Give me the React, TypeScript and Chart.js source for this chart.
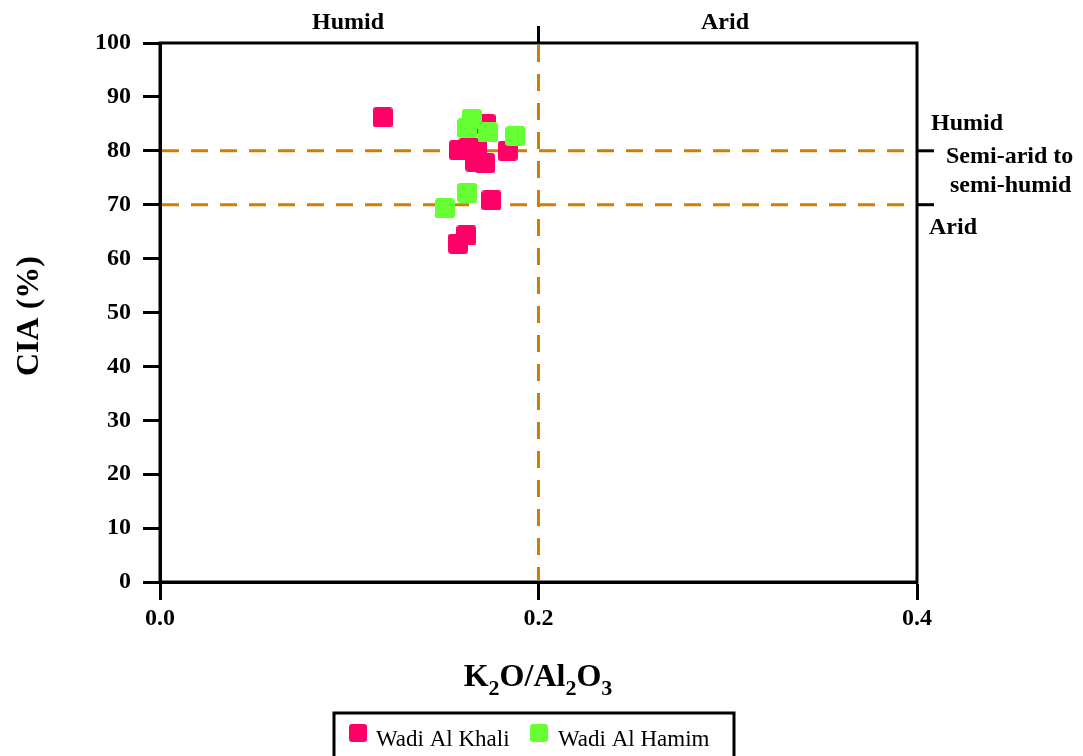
import React, { useEffect, useRef } from "react";
import { Chart, registerables } from "chart.js";

Chart.register(...registerables);

const khaliX = [0.1177, 0.172, 0.158, 0.163, 0.1673, 0.1666, 0.1717, 0.1837, 0.1751, 0.1619, 0.1575];
const khaliY = [86.2, 85.0, 80.1, 80.5, 80.5, 78.0, 77.7, 80.0, 70.8, 64.3, 62.8];
const hamimX = [0.1647, 0.1624, 0.1732, 0.1878, 0.1624, 0.1504];
const hamimY = [85.9, 84.2, 83.4, 82.7, 72.2, 69.3];
const seriesNames = ["Wadi Al Khali", "Wadi Al Hamim"];
const seriesColors = ["#FF0066", "#66FF33"];
const xTicks = [0, 0.2, 0.4];
const xBoundary = 0.2;
const yBoundaries = [80, 70];
const topLabels = ["Humid", "Arid"];
const rightLabels = ["Humid", "Semi-arid to", "semi-humid", "Arid"];

const FONT = "'Liberation Serif', 'Times New Roman', serif";
const DASH = "#CF7F00";

function makeSquare(color: string, size: number) {
  const c = document.createElement("canvas");
  c.width = size;
  c.height = size;
  const ctx = c.getContext("2d")!;
  ctx.fillStyle = color;
  ctx.beginPath();
  (ctx as any).roundRect(0, 0, size, size, 3);
  ctx.fill();
  return c;
}

export default function App() {
  const ref = useRef<HTMLCanvasElement>(null);
  useEffect(() => {
    const red = makeSquare(seriesColors[0], 20);
    const green = makeSquare(seriesColors[1], 20);
    const overlay = {
      id: "overlay",
      beforeDatasetsDraw(chart: any) {
        const { ctx, scales } = chart;
        const x = scales.x, y = scales.y;
        const ca = chart.chartArea;
        ctx.save();
        ctx.strokeStyle = DASH;
        ctx.lineWidth = 3;
        ctx.setLineDash([17, 12]);
        yBoundaries.forEach((v) => {
          const py = y.getPixelForValue(v);
          ctx.beginPath();
          ctx.moveTo(ca.left + 2, py);
          ctx.lineTo(ca.right - 2, py);
          ctx.stroke();
        });
        const px = x.getPixelForValue(xBoundary);
        ctx.beginPath();
        ctx.moveTo(px, ca.top + 2);
        ctx.lineTo(px, ca.bottom - 2);
        ctx.stroke();
        ctx.restore();
      },
      afterDraw(chart: any) {
        const { ctx, scales } = chart;
        const ca = chart.chartArea;
        const x = scales.x, y = scales.y;
        ctx.save();
        ctx.strokeStyle = "#000";
        ctx.lineWidth = 3;
        ctx.strokeRect(ca.left, ca.top, ca.right - ca.left, ca.bottom - ca.top);
        yBoundaries.forEach((v) => {
          const py = y.getPixelForValue(v);
          ctx.beginPath();
          ctx.moveTo(ca.right, py);
          ctx.lineTo(ca.right + 17, py);
          ctx.stroke();
        });
        const px = x.getPixelForValue(xBoundary);
        ctx.beginPath();
        ctx.moveTo(px, ca.top);
        ctx.lineTo(px, ca.top - 17);
        ctx.stroke();
        ctx.fillStyle = "#000";
        ctx.font = `bold 24px ${FONT}`;
        ctx.textBaseline = "middle";
        ctx.textAlign = "center";
        ctx.fillText(topLabels[0], 348, 23);
        ctx.fillText(topLabels[1], 725, 23);
        ctx.textAlign = "left";
        ctx.fillText(rightLabels[0], 931, 124);
        ctx.fillText(rightLabels[1], 946, 157);
        ctx.fillText(rightLabels[2], 950, 186);
        ctx.fillText(rightLabels[3], 929, 228);
        ctx.save();
        ctx.translate(30, 316);
        ctx.rotate(-Math.PI / 2);
        ctx.textAlign = "center";
        ctx.font = `bold 32px ${FONT}`;
        ctx.fillText("CIA (%)", 0, 0);
        ctx.restore();
        const parts: [string, boolean][] = [["K", false], ["2", true], ["O/Al", false], ["2", true], ["O", false], ["3", true]];
        const big = `bold 32px ${FONT}`;
        const small = `bold 22px ${FONT}`;
        let total = 0;
        parts.forEach(([t, s]) => { ctx.font = s ? small : big; total += ctx.measureText(t).width; });
        let cx = 538 - total / 2;
        ctx.textBaseline = "alphabetic";
        ctx.textAlign = "left";
        parts.forEach(([t, s]) => {
          ctx.font = s ? small : big;
          ctx.fillText(t, cx, s ? 695 : 686);
          cx += ctx.measureText(t).width;
        });
        ctx.lineWidth = 3;
        ctx.strokeRect(334, 713, 400, 50);
        ctx.drawImage(makeSquare(seriesColors[0], 18), 349, 724);
        ctx.drawImage(makeSquare(seriesColors[1], 18), 530, 724);
        ctx.font = `23px ${FONT}`;
        ctx.textBaseline = "middle";
        ctx.fillText(seriesNames[0], 376, 740);
        ctx.fillText(seriesNames[1], 558, 740);
        ctx.restore();
      },
    };
    const chart = new Chart(ref.current!, {
      type: "scatter",
      data: {
        datasets: [
          {
            label: seriesNames[0],
            data: khaliX.map((v, i) => ({ x: v, y: khaliY[i] })),
            pointStyle: red as any,
            backgroundColor: seriesColors[0],
            order: 1,
          },
          {
            label: seriesNames[1],
            data: hamimX.map((v, i) => ({ x: v, y: hamimY[i] })),
            pointStyle: green as any,
            backgroundColor: seriesColors[1],
            order: 0,
          },
        ],
      },
      options: {
        animation: false,
        responsive: false,
        maintainAspectRatio: false,
        layout: { padding: { top: 43, right: 166, left: 0, bottom: 0 } },
        plugins: { legend: { display: false }, tooltip: { enabled: false } },
        scales: {
          x: {
            type: "linear",
            min: 0,
            max: 0.4,
            afterFit: (s: any) => { s.height = 174; },
            afterBuildTicks: (s: any) => { s.ticks = xTicks.map((v) => ({ value: v })); },
            ticks: {
              color: "#000",
              font: { family: FONT, size: 24, weight: "bold" },
              padding: 4,
              callback: (v: any) => Number(v).toFixed(1),
            },
            grid: { drawOnChartArea: false, tickLength: 18, tickColor: "#000", tickWidth: 3 },
            border: { display: true, color: "#000", width: 3 },
          },
          y: {
            type: "linear",
            min: 0,
            max: 100,
            afterFit: (s: any) => { s.width = 160; },
            ticks: {
              stepSize: 10,
              color: "#000",
              font: { family: FONT, size: 24, weight: "bold" },
              padding: 12,
            },
            grid: { drawOnChartArea: false, tickLength: 17, tickColor: "#000", tickWidth: 3 },
            border: { display: true, color: "#000", width: 3 },
          },
        },
      } as any,
      plugins: [overlay],
    });
    return () => chart.destroy();
  }, []);
  return (
    <div style={{ position: "absolute", left: 0, top: 0, width: 1083, height: 756, background: "#fff" }}>
      <canvas ref={ref} width={1083} height={756} style={{ width: 1083, height: 756 }} />
    </div>
  );
}
